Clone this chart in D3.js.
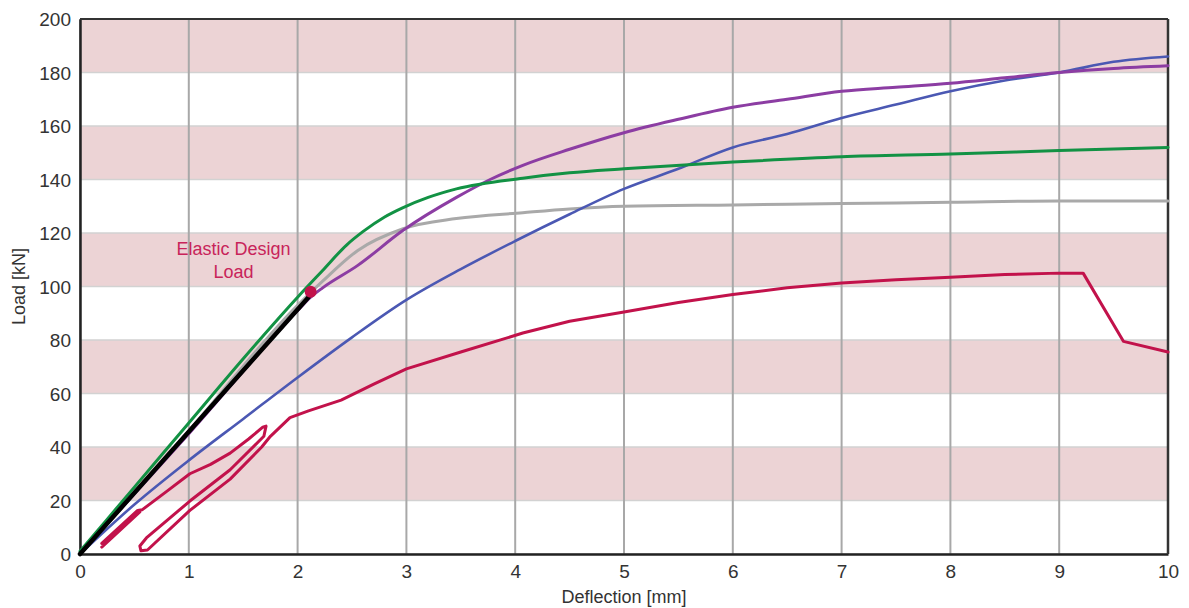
<!DOCTYPE html>
<html>
<head>
<meta charset="utf-8">
<script src="https://cdn.jsdelivr.net/npm/d3@7"></script>
<style>
	body { margin: 0; background: #fff; }
	text { font-family: "Liberation Sans", Arial, sans-serif; }
</style>
</head>
<body>
<svg class="chart" width="1189" height="608"></svg>
<script>
var xTicks = [0, 1, 2, 3, 4, 5, 6, 7, 8, 9, 10],
	yTicks = [0, 20, 40, 60, 80, 100, 120, 140, 160, 180, 200],
	bands = [[20, 40], [60, 80], [100, 120], [140, 160], [180, 200]];

var green = [[0, 1], [0.5, 25], [1, 49], [1.5, 73], [2, 96], [2.23, 106], [2.45, 115.5], [2.6, 120.5], [2.8, 126], [2.97, 129.5], [3.2, 133.3], [3.46, 136.5], [4.07, 140.5], [4.5, 142.5], [5, 144], [6, 146.5], [7, 148.5], [8, 149.5], [9, 150.8], [10, 152]],
	gray = [[0, 0], [1, 46], [2, 93], [2.23, 102], [2.55, 113.4], [2.97, 121.6], [3.46, 125.4], [4.07, 127.6], [4.5, 129], [5, 130], [6, 130.5], [7, 131], [8, 131.5], [9, 132], [10, 132]],
	purple = [[0, 0], [1, 45], [2, 91], [2.12, 96], [2.23, 99.5], [2.55, 107.8], [2.97, 121], [3.46, 133.3], [3.77, 140], [4.07, 145.3], [4.5, 151.3], [5, 157.5], [5.5, 162.5], [6, 167], [6.5, 170], [7, 173], [7.5, 174.5], [8, 176], [8.5, 178], [9, 180], [9.5, 181.5], [10, 182.5]],
	blue = [[0, 0], [0.5, 18.5], [1, 35], [1.5, 50.5], [2, 66], [2.5, 81], [3, 95], [3.5, 106.5], [4, 117], [4.5, 127], [5, 136.5], [5.5, 144], [6, 152], [6.5, 157], [7, 163], [7.5, 168], [8, 173], [8.5, 177], [9, 180], [9.5, 184], [10, 186]],
	red = [[0.2, 2.6], [0.55, 15.7], [0.22, 3.6], [0.2, 4], [0.53, 16.3], [0.57, 16.5], [0.8, 23.5], [1.01, 30], [1.2, 33.5], [1.38, 37.7], [1.55, 43], [1.68, 47.4], [1.71, 47.8], [1.69, 44], [1.38, 31.5], [1.01, 19.8], [0.61, 6], [0.55, 3], [0.56, 1.2], [0.62, 1.5], [1.01, 16.3], [1.38, 28], [1.67, 40], [1.75, 44], [1.93, 51], [2.1, 53.5], [2.4, 57.5], [2.7, 63.5], [3, 69.2], [3.5, 75.5], [4.07, 82.6], [4.5, 87], [5, 90.5], [5.5, 94], [6, 97], [6.5, 99.5], [7, 101.3], [7.5, 102.5], [8, 103.5], [8.5, 104.5], [9, 105], [9.22, 105], [9.59, 79.5], [10, 75.5]],
	elastic = [[0, 0], [2.1, 96]],
	designPoint = [2.12, 98];

var svg = d3.select(".chart"),
	margin = {top: 19, right: 21, bottom: 54, left: 80},
	width = 1189 - margin.left - margin.right,
	height = 608 - margin.top - margin.bottom;

var x = d3.scaleLinear().domain([0, 10]).range([0, width]),
	y = d3.scaleLinear().domain([0, 200]).range([height, 0]);

var g = svg.append("g").attr("transform", "translate(" + margin.left + "," + margin.top + ")");

// bands
g.selectAll(".band")
	.data(bands)
	.enter()
	.append("rect")
	.attr("x", 0)
	.attr("width", width)
	.attr("y", function (d) { return y(d[1]); })
	.attr("height", function (d) { return y(d[0]) - y(d[1]); })
	.attr("fill", "#ecd3d5");

// grid
g.selectAll(".hgrid")
	.data(yTicks)
	.enter()
	.append("line")
	.attr("x1", 0).attr("x2", width)
	.attr("y1", function (d) { return y(d); })
	.attr("y2", function (d) { return y(d); })
	.attr("stroke", "#d2d2d2")
	.attr("stroke-width", 1.5);
g.selectAll(".vgrid")
	.data(xTicks)
	.enter()
	.append("line")
	.attr("y1", 0).attr("y2", height)
	.attr("x1", function (d) { return x(d); })
	.attr("x2", function (d) { return x(d); })
	.attr("stroke", "#a8a8a8")
	.attr("stroke-width", 2);

// axes
var xAxis = g.append("g")
	.attr("transform", "translate(0," + height + ")")
	.call(d3.axisBottom(x).tickValues(xTicks).tickSize(0).tickPadding(11));
var yAxis = g.append("g")
	.call(d3.axisLeft(y).tickValues(yTicks).tickSize(0).tickPadding(9));
[xAxis, yAxis].forEach(function (a) {
	a.select(".domain").attr("stroke", "#222").attr("stroke-width", 2.5);
	a.selectAll("text")
		.attr("fill", "#333")
		.style("font-size", "19px")
		.style("font-family", "Liberation Sans, Arial, sans-serif");
});
yAxis.selectAll("text").attr("dy", "0.36em");

g.append("line")
	.attr("x1", 0).attr("x2", width).attr("y1", 0).attr("y2", 0)
	.attr("stroke", "#333").attr("stroke-width", 2);
g.append("line")
	.attr("x1", width).attr("x2", width).attr("y1", 0).attr("y2", height)
	.attr("stroke", "#333").attr("stroke-width", 2.5);

// curves
var line = d3.line()
	.x(function (d) { return x(d[0]); })
	.y(function (d) { return y(d[1]); });

var series = [
	{data: gray, color: "#a9a9a9", w: 3, curve: d3.curveMonotoneX},
	{data: blue, color: "#4b58b3", w: 2.6, curve: d3.curveMonotoneX},
	{data: purple, color: "#8c3da3", w: 3, curve: d3.curveMonotoneX},
	{data: green, color: "#129244", w: 3, curve: d3.curveMonotoneX},
	{data: red, color: "#c2124b", w: 3, curve: d3.curveLinear},
	{data: elastic, color: "#000", w: 4.5, curve: d3.curveLinear}
];
g.selectAll(".curve")
	.data(series)
	.enter()
	.append("path")
	.attr("d", function (d) { return line.curve(d.curve)(d.data); })
	.attr("fill", "none")
	.attr("stroke", function (d) { return d.color; })
	.attr("stroke-width", function (d) { return d.w; })
	.attr("stroke-linejoin", "round")
	.attr("stroke-linecap", "round");

g.append("circle")
	.attr("cx", x(designPoint[0]))
	.attr("cy", y(designPoint[1]))
	.attr("r", 6)
	.attr("fill", "#c2124b");

var note = g.append("text")
	.attr("y", 236)
	.attr("text-anchor", "middle")
	.attr("fill", "#c8245a")
	.style("font-size", "18px");
note.append("tspan").attr("x", x(1.41)).text("Elastic Design");
note.append("tspan").attr("x", x(1.41)).attr("dy", "23px").text("Load");

// axis titles
svg.append("text")
	.attr("x", margin.left + width / 2)
	.attr("y", 603)
	.attr("text-anchor", "middle")
	.attr("fill", "#333")
	.style("font-size", "18px")
	.text("Deflection [mm]");
svg.append("text")
	.attr("transform", "translate(25," + (margin.top + height / 2) + ") rotate(-90)")
	.attr("text-anchor", "middle")
	.attr("fill", "#333")
	.style("font-size", "18px")
	.text("Load [kN]");
</script>
</body>
</html>
